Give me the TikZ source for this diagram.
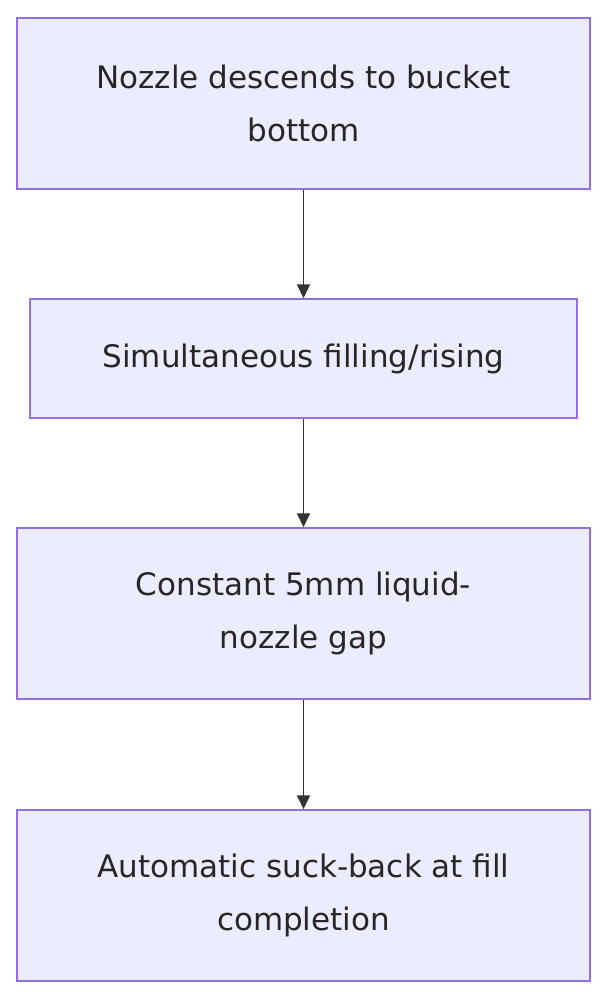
\documentclass[tikz,border=0pt]{standalone}
\usepackage{fontspec}
\setmainfont{DejaVu Sans}
\usetikzlibrary{arrows.meta}
\definecolor{boxfill}{HTML}{ECECFF}
\definecolor{boxline}{HTML}{9370DB}
\definecolor{linkcol}{HTML}{333333}
\tikzset{
    stepbox/.style={draw=boxline, fill=boxfill, line width=1.5pt, align=center,
        font=\fontsize{31}{53}\selectfont, text=black!85, inner sep=0pt},
    link/.style={draw=linkcol, line width=1.8pt, -{Triangle[length=14pt,width=13pt]}}
}
\begin{document}
\begin{tikzpicture}[x=1pt,y=-1pt]
    \useasboundingbox (0,0) rectangle (608,1000);

    \node [stepbox, minimum width=573pt, minimum height=171pt] (descend) at (303.5,103.5) {Nozzle descends to bucket\\bottom};
    \node [stepbox, minimum width=547pt, minimum height=119pt] (fill)    at (303.5,358.5) {Simultaneous filling/rising};
    \node [stepbox, minimum width=573pt, minimum height=171pt] (gap)     at (303.5,613.5) {Constant 5mm liquid-\\nozzle gap};
    \node [stepbox, minimum width=573pt, minimum height=171pt] (suck)    at (303.5,895.5) {Automatic suck-back at fill\\completion};

    \draw [link] (descend) -- (fill);
    \draw [link] (fill) -- (gap);
    \draw [link] (gap) -- (suck);
\end{tikzpicture}
\end{document}
